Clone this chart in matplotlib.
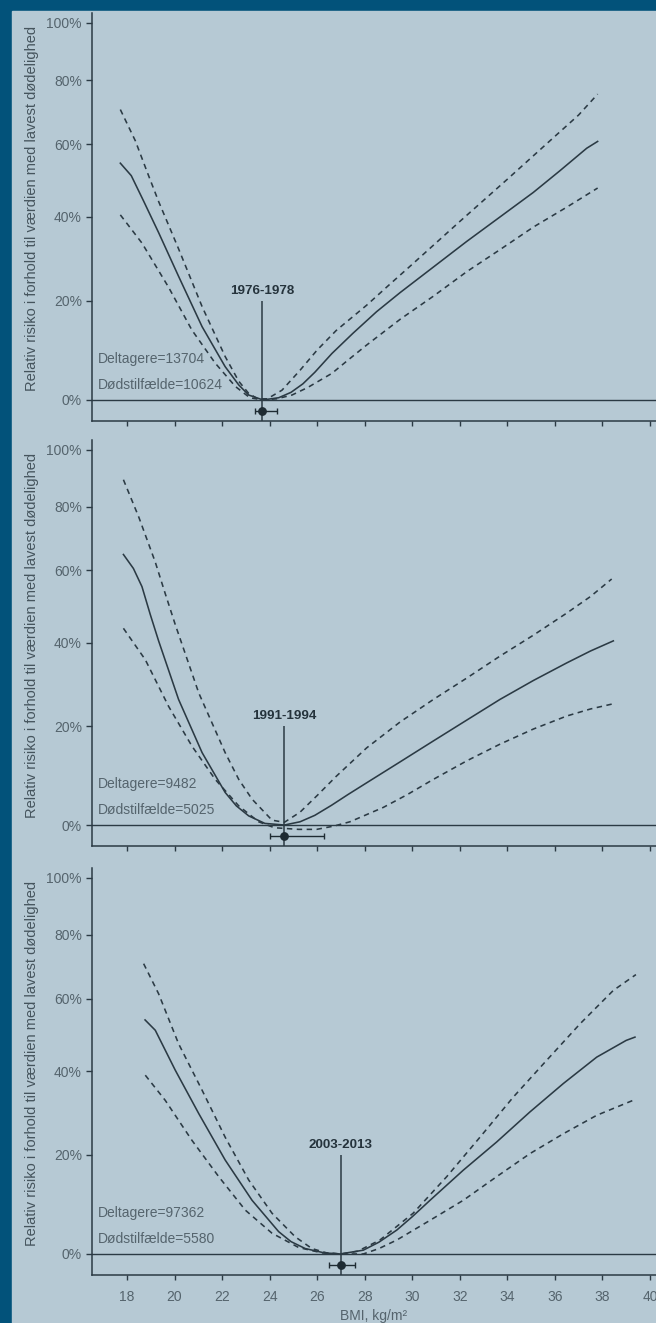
import matplotlib
matplotlib.use('Agg')
import matplotlib.pyplot as plt
from matplotlib.patches import Rectangle
from matplotlib.ticker import FixedLocator, NullLocator

plt.rcParams['font.family'] = ['Liberation Sans', 'DejaVu Sans']

# BMI (kg/m2) og relativ risiko (% over laveste dødelighed) pr. periode
bmi_7678 = [17.72, 18.18, 18.7, 19.33, 20.17, 21.16, 22.13, 22.7, 23.12, 23.72, 24.38, 24.9,
            25.4, 25.9, 26.62, 27.5, 28.5, 29.49, 30.9, 32.29, 33.7, 35.09, 36.2, 37.34, 37.8]
est_7678 = [54.5, 51.0, 44.1, 36.0, 25.5, 14.4, 6.3, 2.8, 0.9, 0.0, 0.4, 1.4,
            3.0, 5.2, 8.9, 13.0, 17.6, 21.8, 27.7, 33.8, 40.0, 46.4, 52.3, 58.8, 60.8]
bmi_7678_hi = [17.72, 18.35, 18.85, 19.33, 20.17, 21.16, 22.13, 22.7, 23.12, 23.5, 23.9, 24.52,
               25.28, 26.0, 26.8, 28.08, 29.0, 30.0, 32.0, 34.0, 36.0, 37.0, 37.8]
hi_7678 = [70.5, 61.0, 52.0, 44.0, 32.0, 18.7, 8.3, 3.5, 1.2, 0.2, 0.2, 1.8,
           5.6, 9.6, 13.6, 19.0, 23.4, 28.3, 38.8, 50.0, 62.3, 68.8, 75.4]
bmi_7678_lo = [17.72, 18.63, 19.75, 20.73, 21.71, 22.56, 23.17, 23.7, 24.3, 24.94, 25.6, 26.62,
               27.3, 28.08, 29.5, 30.89, 32.3, 33.69, 35.1, 36.5, 37.8]
lo_7678 = [40.5, 33.4, 23.0, 13.7, 7.0, 2.5, 0.4, 0.0, 0.2, 0.9, 2.3, 5.0,
           7.6, 10.6, 16.0, 21.0, 26.6, 31.8, 37.4, 42.5, 47.6]

bmi_9194 = [17.85, 18.27, 18.63, 18.98, 19.33, 20.17, 21.16, 22.13, 22.6, 23.12, 23.8, 24.62,
            25.28, 25.9, 26.6, 27.3, 28.08, 29.5, 30.89, 32.3, 33.69, 35.1, 36.5, 37.5, 38.46]
est_9194 = [64.8, 60.6, 55.3, 47.5, 40.5, 26.1, 14.3, 6.2, 3.6, 1.7, 0.3, 0.0,
            0.6, 1.8, 3.7, 5.8, 8.1, 12.4, 16.8, 21.4, 26.1, 30.6, 34.9, 37.9, 40.5]
bmi_9194_hi = [17.85, 18.5, 19.19, 19.6, 20.03, 21.02, 22.13, 22.7, 23.26, 24.1, 24.62, 25.28,
               26.0, 26.8, 28.08, 29.5, 30.89, 32.3, 33.69, 35.1, 36.5, 37.5, 38.39]
hi_9194 = [89.2, 76.5, 62.5, 53.5, 44.8, 27.6, 14.3, 8.8, 4.9, 0.9, 0.5, 2.4,
           5.6, 9.4, 15.3, 21.0, 26.1, 31.2, 36.6, 42.0, 47.9, 52.5, 57.5]
bmi_9194_lo = [17.85, 18.77, 19.75, 20.73, 21.71, 22.7, 23.54, 24.2, 25.22, 25.98, 26.7, 27.38,
               28.78, 29.8, 30.89, 32.3, 33.69, 35.1, 36.5, 37.5, 38.46]
lo_9194 = [43.8, 35.7, 24.5, 15.7, 8.8, 3.6, 0.6, -0.5, -0.8, -0.8, -0.2, 0.6,
           3.3, 5.8, 8.8, 12.6, 16.1, 19.4, 22.3, 23.9, 25.1]

bmi_0313 = [18.76, 19.19, 20.03, 21.02, 22.13, 23.26, 24.38, 24.9, 25.5, 26.3, 26.97, 27.94,
            28.6, 29.35, 30.0, 30.75, 32.15, 33.55, 34.95, 36.36, 37.76, 39.0, 39.37]
est_0313 = [53.9, 51.0, 40.3, 29.5, 18.9, 10.4, 4.2, 2.3, 1.0, 0.2, 0.0, 0.7,
            2.2, 4.5, 7.1, 10.4, 16.7, 22.9, 29.9, 36.9, 43.7, 48.2, 49.1]
bmi_0313_hi = [18.7, 19.33, 20.17, 21.16, 22.13, 23.12, 24.1, 25.08, 25.78, 26.4, 27.0, 27.7,
               28.64, 30.04, 31.45, 32.85, 34.25, 35.66, 37.06, 38.46, 39.41]
hi_0313 = [70.7, 61.5, 47.3, 35.2, 24.0, 14.6, 7.8, 3.2, 1.0, 0.2, 0.0, 0.5,
           2.6, 7.8, 15.3, 24.0, 33.5, 42.9, 52.8, 62.5, 67.3]
bmi_0313_lo = [18.77, 19.61, 20.73, 21.86, 22.98, 24.1, 25.22, 26.2, 27.0, 27.94, 28.6, 29.35,
               30.75, 32.15, 33.55, 34.95, 36.36, 37.76, 39.37]
lo_0313 = [39.0, 32.7, 23.3, 15.3, 8.4, 3.9, 1.2, 0.2, 0.0, 0.0, 1.0, 2.6,
           6.4, 10.4, 15.3, 20.3, 24.8, 29.1, 32.9]

perioder = ['1976-1978', '1991-1994', '2003-2013']
deltagere = [13704, 9482, 97362]
doedsfald = [10624, 5025, 5580]
nadir = [23.7, 24.6, 27.0]
nadir_lo = [23.4, 24.0, 26.5]
nadir_hi = [24.3, 26.3, 27.6]

kurver = [
    (bmi_7678, est_7678, bmi_7678_hi, hi_7678, bmi_7678_lo, lo_7678),
    (bmi_9194, est_9194, bmi_9194_hi, hi_9194, bmi_9194_lo, lo_9194),
    (bmi_0313, est_0313, bmi_0313_hi, hi_0313, bmi_0313_lo, lo_0313),
]

y_pct = [0, 20, 40, 60, 80, 100]
x_ticks = list(range(18, 41, 2))

W, H = 656, 1323
bg_dark = '#02527a'
bg_panel = '#b6c9d4'
ink = '#2b3a44'
grey = '#55646d'


def rr(p):
    return [1 + v / 100 for v in p]


fig = plt.figure(figsize=(W / 100, H / 100), dpi=100, facecolor=bg_dark)
fig.patches.append(Rectangle((12 / W, 0), 1 - 12 / W, 1 - 11 / H,
                             transform=fig.transFigure, color=bg_panel, zorder=-5))

panels = [(13, 421), (440, 846), (868, 1275)]
ylo, yhi = 0.962, 2.036

for i, (top, bot) in enumerate(panels):
    ax = fig.add_axes([92 / W, 1 - bot / H, (W - 92) / W, (bot - top) / H])
    ax.set_facecolor('none')
    bx, est, bxh, hi, bxl, lo = kurver[i]

    ax.plot(bx, rr(est), color=ink, lw=1.15, solid_joinstyle='round')
    ax.plot(bxh, rr(hi), color=ink, lw=1.15, dashes=(3.4, 2.8))
    ax.plot(bxl, rr(lo), color=ink, lw=1.15, dashes=(3.4, 2.8))
    ax.axhline(1.0, color=ink, lw=1.0)

    # laveste dødelighed med konfidensinterval
    ax.vlines(nadir[i], ylo, 1.2, color=ink, lw=1.1)
    ax.errorbar(nadir[i], 0.9805,
                xerr=[[nadir[i] - nadir_lo[i]], [nadir_hi[i] - nadir[i]]],
                fmt='o', ms=5.3, color='#1e2b33', elinewidth=1.0, capsize=2.2, capthick=1.0)
    ax.annotate(perioder[i], xy=(nadir[i], 1.2), xytext=(0, 3), textcoords='offset points',
                ha='center', va='bottom', fontsize=9.6, fontweight='bold', color='#25333c')

    ax.text(16.78, 1.078, f'Deltagere={deltagere[i]}', fontsize=10, color=grey,
            ha='left', va='center')
    ax.text(16.78, 1.028, f'Dødstilfælde={doedsfald[i]}', fontsize=10, color=grey,
            ha='left', va='center')

    ax.set_yscale('log')
    ax.set_xlim(16.528, 40.255)
    ax.set_ylim(ylo, yhi)
    ax.yaxis.set_major_locator(FixedLocator([1 + p / 100 for p in y_pct]))
    ax.yaxis.set_minor_locator(NullLocator())
    ax.set_yticklabels([f'{p}%' for p in y_pct])
    ax.set_xticks(x_ticks)

    for s in ['top', 'right']:
        ax.spines[s].set_visible(False)
    for s in ['left', 'bottom']:
        ax.spines[s].set_color(ink)
        ax.spines[s].set_linewidth(1.1)
    ax.tick_params(axis='y', length=4.3, width=1.0, color=ink, pad=3,
                   labelsize=10, labelcolor=grey)
    ax.tick_params(axis='x', length=3.6, width=1.0, color=ink, pad=7,
                   labelsize=10, labelcolor=grey)
    if i < 2:
        ax.tick_params(axis='x', labelbottom=False)
    else:
        ax.set_xlabel('BMI, kg/m²', fontsize=10, color=grey, labelpad=4)

    fig.text(32 / W, 1 - (top + 195) / H,
             'Relativ risiko i forhold til værdien med lavest dødelighed',
             rotation=90, ha='center', va='center', fontsize=10.5, color='#45545d')

fig.savefig('out.png', dpi=100, facecolor=bg_dark)
